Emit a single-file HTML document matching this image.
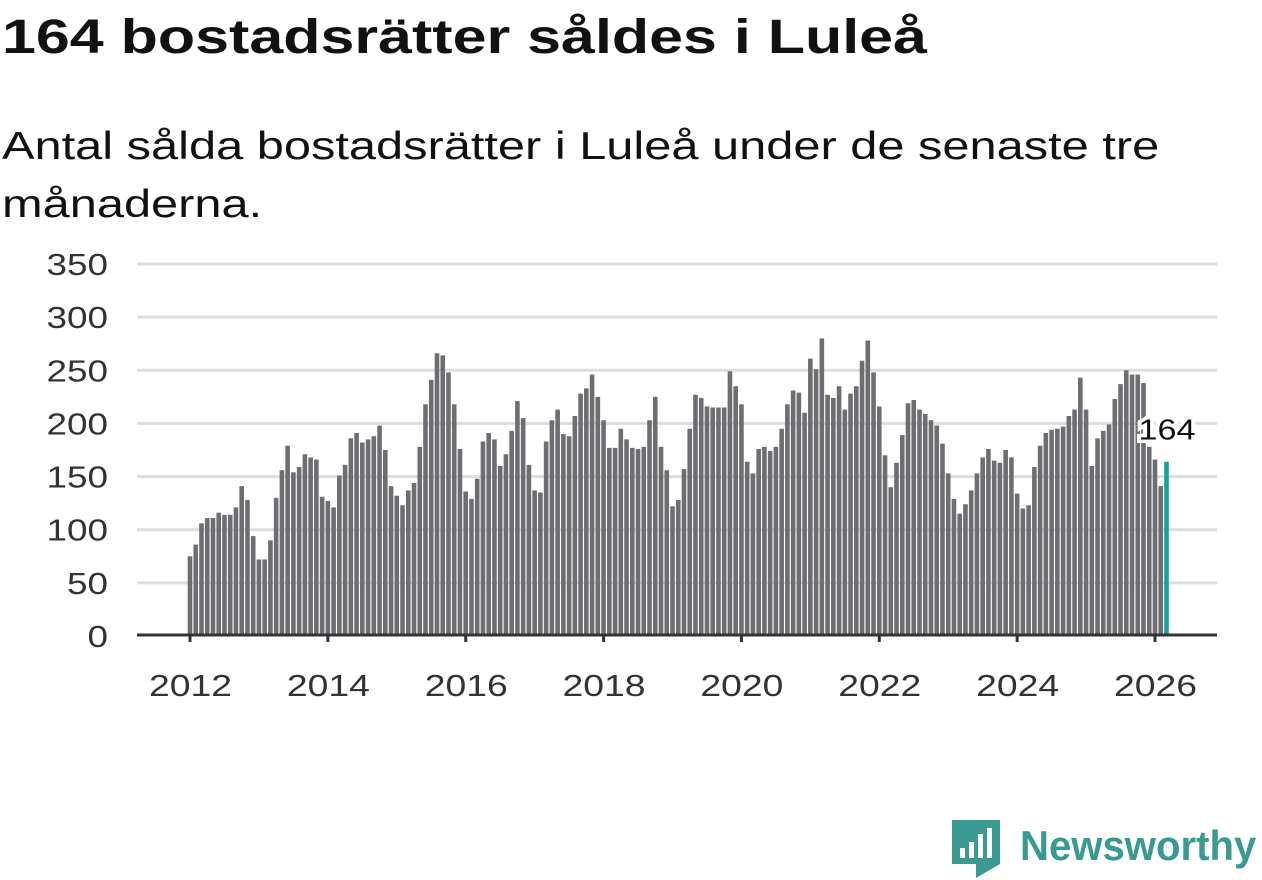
<!DOCTYPE html>
<html><head><meta charset="utf-8"><style>
body{margin:0;width:1262px;height:879px;background:#fff;font-family:"Liberation Sans",sans-serif;overflow:hidden;position:relative}
h1{position:absolute;left:2px;top:10px;margin:0;font-size:48px;font-weight:bold;color:#111;transform-origin:0 0;transform:scaleX(1.27);white-space:nowrap}
p{position:absolute;left:2px;top:118px;margin:0;font-size:39px;line-height:58px;color:#111;width:1000px;transform-origin:0 0;transform:scaleX(1.25);white-space:nowrap}
</style></head><body>
<h1>164 bostadsrätter såldes i Luleå</h1>
<p>Antal sålda bostadsrätter i Luleå under de senaste tre<br>månaderna.</p>
<svg id="c" width="1262" height="879" style="position:absolute;left:0;top:0"></svg>
<div style="position:absolute;left:952px;top:820px;width:310px;height:60px">
<svg width="48" height="58" viewBox="0 0 48 58" style="position:absolute;left:0;top:0"><path d="M0 0H48V44L24 58V44H0Z" fill="#3a9a92"/><rect x="8" y="28" width="5" height="10" fill="#fff"/><rect x="17" y="22" width="5" height="16" fill="#fff"/><rect x="26" y="14" width="5" height="24" fill="#fff"/><rect x="35" y="8" width="5" height="30" fill="#fff"/></svg>
<span style="position:absolute;left:68px;top:2px;font-size:42px;font-weight:bold;color:#3a9a92;transform-origin:0 0;transform:scaleX(0.955);white-space:nowrap">Newsworthy</span></div>
<script>
const values=[75,86,106,111,111,116,114,114,121,141,128,94,
72,72,90,130,156,179,154,159,171,168,166,131,
127,121,151,161,186,191,182,185,188,198,175,141,
132,123,137,144,178,218,241,266,264,248,218,176,
136,129,148,183,191,185,160,171,193,221,205,161,
137,135,183,203,213,190,188,207,228,233,246,225,
203,177,177,195,185,177,176,178,203,225,178,156,
122,128,157,195,227,224,216,215,215,215,249,235,218,
164,153,176,178,174,178,195,218,231,229,210,261,
251,280,227,224,235,213,228,235,259,278,248,216,
170,140,163,189,219,222,213,209,203,198,181,153,
129,115,124,137,153,168,176,165,163,175,168,134,
120,123,159,179,191,194,195,197,207,213,243,213,
160,186,193,199,223,237,250,246,246,238,178,166,
141,164];
const yTicks=[0,50,100,150,200,250,300,350];
const xYears=[2012,2014,2016,2018,2020,2022,2024,2026];
const svg=document.getElementById('c');const NS='http://www.w3.org/2000/svg';
const y=v=>636-v*372/350;
const xm=i=>190+i*(1155-190)/168;
const xy=yr=>xm((yr-2012)*12);
function el(t,a){const e=document.createElementNS(NS,t);for(const k in a)e.setAttribute(k,a[k]);svg.appendChild(e);return e;}
yTicks.forEach(t=>{
 if(t>0){const g=el('line',{x1:137,x2:1217,y1:y(t),y2:y(t),stroke:'#ddd','stroke-width':3});
 
 }
 const s=String(t);
 const tx=el('text',{x:108,y:y(t)+11,'text-anchor':'end','font-size':31,fill:'#333','font-family':'Liberation Sans',textLength:s.length*20.5,lengthAdjust:'spacingAndGlyphs'});tx.textContent=s;
 
 
});
const bw=4.6;
values.forEach((v,i)=>{
 const last=i===values.length-1;
 const r=el('rect',{x:xm(i)-bw/2,y:y(v),width:bw,height:636-y(v),fill:last?'#13a39a':'#6e6d72'});
 
 
});
const ax=el('line',{x1:137,x2:1217,y1:635,y2:635,stroke:'#333','stroke-width':3});


xYears.forEach(yr=>{
 el('line',{x1:xy(yr),x2:xy(yr),y1:635,y2:642,stroke:'#333','stroke-width':3});
 const t=el('text',{x:xy(yr)-41,y:696,'font-size':31,fill:'#333','font-family':'Liberation Sans',textLength:83,lengthAdjust:'spacingAndGlyphs'});t.textContent=yr;
 
 
});
const li=values.length-1;
const lb=el('text',{x:xm(li)-28,y:y(values[li])-22,'font-size':29,fill:'#111',stroke:'#fff','stroke-width':7,'paint-order':'stroke','font-family':'Liberation Sans',textLength:57,lengthAdjust:'spacingAndGlyphs'});
lb.textContent=values[li];


</script>
</body></html>
